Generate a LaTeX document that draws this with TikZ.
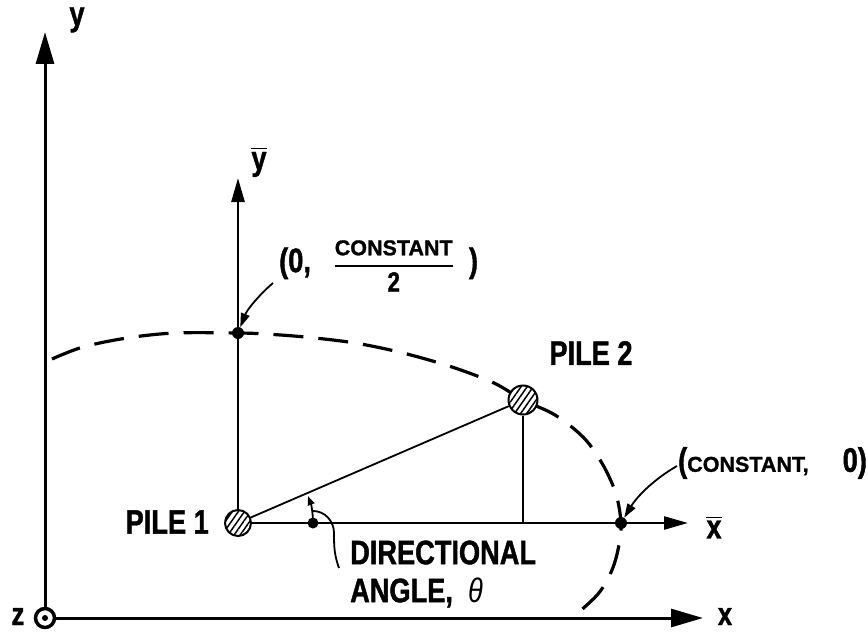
\documentclass[tikz,border=0pt]{standalone}
\usepackage{amsmath}
\usepackage{fontspec}
\setmainfont{Liberation Sans}[FakeStretch=0.8,BoldFeatures={FakeBold=1.2}]
\newfontfamily\widefont{Liberation Sans}[BoldFeatures={FakeBold=1.2}]
\usetikzlibrary{arrows.meta,patterns.meta}

\tikzset{
  axis/.style={line width=3pt,-{Triangle[length=32pt,width=18pt]}},
  baraxis/.style={line width=2.6pt,-{Triangle[length=24pt,width=13pt]}},
  thinline/.style={line width=1.8pt},
  pointer/.style={line width=1.8pt,-{Triangle[length=14pt,width=9pt]}},
  locus/.style={line width=3.2pt,dash pattern=on 30pt off 15pt},
  pile/.style={circle,draw,line width=2pt,inner sep=0pt,preaction={fill=white},
    pattern={Lines[angle=55,distance=5pt,line width=1.5pt]}},
  spot/.style={circle,fill,inner sep=0pt,minimum size=12pt},
  lbl/.style={font=\bfseries\fontsize{34}{38}\selectfont,inner sep=0pt},
}

\begin{document}
\begin{tikzpicture}[x=1pt,y=-1pt]
    \useasboundingbox (0,0) rectangle (868,634);
    % locus of the second pile
    \draw[locus] plot[smooth,tension=0.55] coordinates {(52,359) (83,347) (127,338) (175,333) (238,333)
      (265,334) (305,337) (355,343) (403,353) (452,367) (494,383) (523,400) (555,415) (584,438)
      (603,465) (616,494) (621,523) (619,545) (612,570) (598,594) (572,618)};

    % global axes
    \node[circle,draw,line width=3.5pt,minimum size=19pt,inner sep=0pt] (O) at (45,618) {};
    \fill (O) circle (3pt);
    \coordinate (xend) at (703,618);
    \coordinate (yend) at (45,32);
    \draw[axis] (O) -- (xend);
    \draw[axis] (O) -- (yend);
    \node[lbl,font=\bfseries\fontsize{32}{36}\selectfont,anchor=base] (xlab) at (725,625) {x};
    \node[lbl] (ylab) at (77,20) {y};
    \node[lbl,font=\bfseries\fontsize{32}{36}\selectfont,anchor=base] (zlab) at (18,625) {z};

    % local axes and piles
    \node[pile,minimum size=26pt] (p1) at (238,523) {};
    \node[pile,minimum size=29pt] (p2) at (523,400) {};
    \coordinate (xbend) at (688,523);
    \coordinate (ybend) at (238,178);
    \draw[baraxis] (p1) -- (xbend);
    \draw[baraxis] (p1) -- (ybend);
    \draw[thinline] (p1) -- (p2);
    \draw[thinline] (p2) -- (p2 |- p1);
    \node[lbl] (xblab) at (714,527) {$\overline{\mbox{x}}$};
    \node[lbl] (yblab) at (259,162) {$\overline{\mbox{y}}$};
    \node[lbl,anchor=east] (p1lab) at (209,522) {PILE 1};
    \node[lbl] (p2lab) at (591,353) {PILE 2};

    % intercepts
    \node[spot] (cy) at (238,333) {};
    \node[spot] (cx) at (621,523) {};
    \node[lbl,anchor=west] (cylab) at (279,266) {(0,\ \ \ $\genfrac{}{}{1.8pt}{0}{\mbox{\widefont\fontsize{21.5}{22}\selectfont CONSTANT}}{\mbox{\fontsize{28}{28}\selectfont 2}}$\ \ )};
    \node[lbl,anchor=west] (cxlab) at (678,463) {({\widefont\fontsize{21.5}{24}\selectfont CONSTANT,}\quad 0)};
    \coordinate (cytail) at (273,283);
    \coordinate (cxtail) at (677,466);
    \draw[pointer] (cytail) .. controls (258,296) and (247,310) .. (cy);
    \draw[pointer] (cxtail) .. controls (656,478) and (638,495) .. (cx);

    % directional angle
    \node[spot,minimum size=11pt] (ad) at (313,523) {};
    \draw[thinline,-{Triangle[length=9pt,width=7pt]}] (ad.center) arc[start angle=0,end angle=-21,radius=75];
    \coordinate (leadtop) at (313,511);
    \coordinate (leadend) at (339,568);
    \draw[thinline] (leadtop) to[out=0,in=90] (334,533) to[out=-90,in=110] (leadend);
    \node[lbl,anchor=west,align=left] (anglab) at (350,574) {DIRECTIONAL\\ANGLE,\ \ {\mdseries\itshape θ}};
\end{tikzpicture}
\end{document}
